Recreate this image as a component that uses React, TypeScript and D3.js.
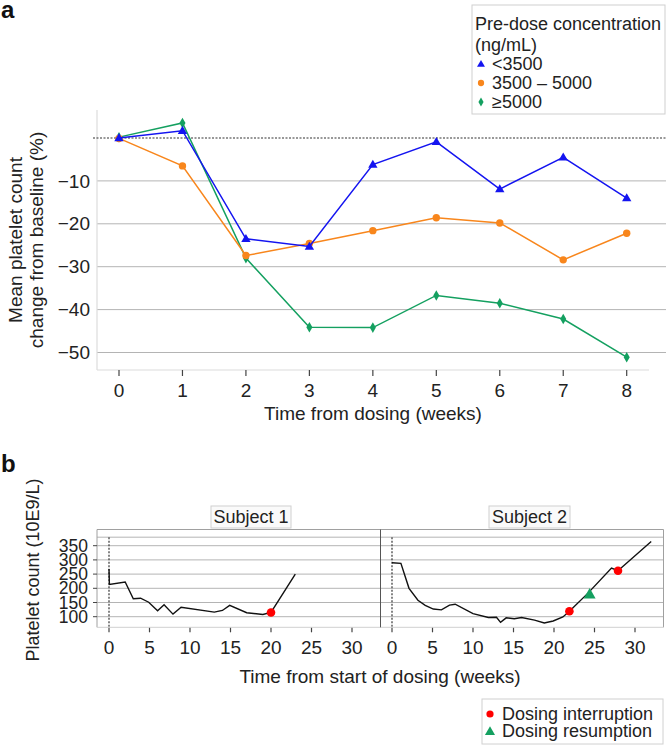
import React from "react";
import * as d3 from "d3";

// ---------- Panel a data ----------
const weeksA = [0, 1, 2, 3, 4, 5, 6, 7, 8];
const seriesNames = ["<3500", "3500 – 5000", "≥5000"];
const lowConc = [0, 1.7, -23.5, -25.3, -6.2, -0.9, -11.9, -4.5, -14.0];
const midConc = [-0.1, -6.5, -27.4, -24.6, -21.6, -18.6, -19.8, -28.4, -22.2];
const highConc = [0.2, 3.5, -28.0, -44.1, -44.2, -36.7, -38.5, -42.2, -51.1];
const yTicksA = [-10, -20, -30, -40, -50];

// ---------- Panel b data ----------
const subj1Weeks = [0, 0.05, 2, 3, 3.9, 4.9, 6, 6.8, 7.9, 8.9, 13, 14, 14.9, 17, 19, 20, 23];
const subj1Counts = [268, 214, 222, 163, 165, 151, 121, 142, 109, 133, 116, 122, 140, 114, 108, 115, 250];
const subj2Weeks = [0, 1.1, 2.1, 3.2, 4.1, 5.1, 6.1, 7.1, 7.8, 10, 11.9, 12.9, 13.4, 14.1, 15.1, 16, 17.6, 18.8, 19.9, 21.1, 21.9, 24.2, 27.1, 27.9, 32];
const subj2Counts = [290, 288, 200, 158, 140, 127, 124, 141, 144, 111, 97, 98, 80, 96, 93, 97, 88, 78, 85, 99, 119, 183, 271, 262, 365];
const subj1Interrupt = [{ w: 20, v: 115 }];
const subj2Interrupt = [{ w: 21.9, v: 119 }, { w: 27.9, v: 262 }];
const subj2Resume = [{ w: 24.4, v: 180 }];
const yTicksB = [100, 150, 200, 250, 300, 350];
const yGridB = [100, 150, 200, 250, 300, 350, 380];
const xTicksB = [0, 5, 10, 15, 20, 25, 30];

const FONT = "'Liberation Sans', Arial, Helvetica, sans-serif";
const BLUE = "#1414f0";
const ORANGE = "#f8861c";
const GREEN = "#14a060";
const FS = 19;

export default function App() {
  // panel a scales
  const xA = d3.scaleLinear().domain([0, 8]).range([119, 626.7]);
  const yA = d3.scaleLinear().domain([0, -50]).range([138, 352.5]);
  const lineA = (vals: number[]) =>
    d3.line<number>().x((_, i) => xA(weeksA[i])).y((d) => yA(d))(vals) as string;

  // panel b scales
  const yB = d3.scaleLinear().domain([100, 350]).range([616.7, 545.7]);
  const xB1 = d3.scaleLinear().domain([0, 30]).range([109, 352]);
  const xB2 = d3.scaleLinear().domain([0, 30]).range([392, 635]);
  const lineB = (x: d3.ScaleLinear<number, number>, ws: number[], vs: number[]) =>
    d3.line<number>().x((_, i) => x(ws[i])).y((d) => yB(d))(vs) as string;

  const tri = d3.symbol().type(d3.symbolTriangle);
  const dia = d3.symbol().type(d3.symbolDiamond);

  const series = [
    { name: seriesNames[2], vals: highConc, color: GREEN, shape: "diamond" },
    { name: seriesNames[1], vals: midConc, color: ORANGE, shape: "circle" },
    { name: seriesNames[0], vals: lowConc, color: BLUE, shape: "triangle" },
  ];

  const marker = (shape: string, x: number, y: number, color: string, key: any, scale = 1) => {
    if (shape === "circle") return <circle key={key} cx={x} cy={y} r={3.7 * scale} fill={color} />;
    if (shape === "triangle")
      return <path key={key} d={tri.size(38 * scale * scale)() as string} transform={`translate(${x},${y + 0.5})`} fill={color} />;
    return <path key={key} d={dia.size(32 * scale * scale)() as string} transform={`translate(${x},${y})`} fill={color} />;
  };

  const legendItems = [
    { name: seriesNames[0], color: BLUE, shape: "triangle" },
    { name: seriesNames[1], color: ORANGE, shape: "circle" },
    { name: seriesNames[2], color: GREEN, shape: "diamond" },
  ];

  const panelsB = [
    { label: "Subject 1", x: xB1, left: 97, right: 380.5, ws: subj1Weeks, vs: subj1Counts, intr: subj1Interrupt, res: [] as { w: number; v: number }[], strip: [211, 291] },
    { label: "Subject 2", x: xB2, left: 380.5, right: 663.5, ws: subj2Weeks, vs: subj2Counts, intr: subj2Interrupt, res: subj2Resume, strip: [489, 570] },
  ];
  const pTop = 529.5;
  const pBot = 627.3;

  return (
    <svg
      width={666}
      height={747}
      style={{ position: "absolute", left: 0, top: 0, background: "#fff" }}
      fontFamily={FONT}
    >
      <rect x={0} y={0} width={666} height={747} fill="#fff" />
      {/* ---------------- Panel a ---------------- */}
      <text x={1} y={18} fontSize={24} fontWeight="bold" fill="#111">a</text>

      {/* grid */}
      {yTicksA.map((t) => (
        <line key={t} x1={97} x2={666} y1={yA(t)} y2={yA(t)} stroke="#b4b4b4" strokeWidth={1} />
      ))}
      {/* axes */}
      <line x1={97} x2={97} y1={110} y2={370} stroke="#dcdcdc" strokeWidth={1.2} />
      <line x1={97} x2={649} y1={370} y2={370} stroke="#dcdcdc" strokeWidth={1.2} />
      {/* zero dotted */}
      <line x1={93} x2={666} y1={yA(0)} y2={yA(0)} stroke="#333" strokeWidth={1.2} strokeDasharray="2,1.5" />
      {yTicksA.map((t) => (
        <text key={t} x={90} y={yA(t)} dy="0.35em" textAnchor="end" fontSize={FS} fill="#222">
          {"−" + Math.abs(t)}
        </text>
      ))}
      {weeksA.map((w) => (
        <g key={w}>
          <line x1={xA(w)} x2={xA(w)} y1={370} y2={376} stroke="#444" strokeWidth={1.2} />
          <text x={xA(w)} y={390} dy="0.35em" textAnchor="middle" fontSize={FS} fill="#222">{w}</text>
        </g>
      ))}
      <text x={373} y={413} dy="0.35em" textAnchor="middle" fontSize={FS} fill="#222">
        Time from dosing (weeks)
      </text>
      <text transform="translate(15,240) rotate(-90)" textAnchor="middle" dy="0.35em" fontSize={FS} fill="#222">
        Mean platelet count
      </text>
      <text transform="translate(36,240) rotate(-90)" textAnchor="middle" dy="0.35em" fontSize={FS} fill="#222">
        change from baseline (%)
      </text>

      {/* series */}
      {series.map((s) => (
        <g key={s.name}>
          <path d={lineA(s.vals)} fill="none" stroke={s.color} strokeWidth={1.5} />
          {s.vals.map((v, i) => marker(s.shape, xA(weeksA[i]), yA(v), s.color, i))}
        </g>
      ))}

      {/* legend a */}
      <rect x={472} y={5} width={193} height={109} fill="#fff" stroke="#cfcfcf" strokeWidth={1} />
      <text x={475} y={24} dy="0.35em" fontSize={18} fill="#222">Pre-dose concentration</text>
      <text x={475} y={45} dy="0.35em" fontSize={18} fill="#222">(ng/mL)</text>
      {legendItems.map((it, i) => (
        <g key={it.name}>
          {marker(it.shape, 481, 64 + i * 19, it.color, "m" + i, 0.85)}
          <text x={492} y={64 + i * 19} dy="0.35em" fontSize={18} fill="#222">{it.name}</text>
        </g>
      ))}

      {/* ---------------- Panel b ---------------- */}
      <text x={1} y={472} fontSize={24} fontWeight="bold" fill="#111">b</text>

      {panelsB.map((p) => (
        <g key={p.label}>
          {yGridB.map((t) => (
            <line key={t} x1={p.left} x2={p.right} y1={yB(t)} y2={yB(t)} stroke="#b4b4b4" strokeWidth={1} />
          ))}
          <line x1={p.x(0)} x2={p.x(0)} y1={yB(380)} y2={pBot} stroke="#444" strokeWidth={1.3} strokeDasharray="2,1.5" />
          {xTicksB.map((t) => (
            <g key={t}>
              <line x1={p.x(t)} x2={p.x(t)} y1={pBot} y2={pBot + 5} stroke="#444" strokeWidth={1.2} />
              <text x={p.x(t)} y={647} dy="0.35em" textAnchor="middle" fontSize={FS} fill="#222">{t}</text>
            </g>
          ))}
          <path d={lineB(p.x, p.ws, p.vs)} fill="none" stroke="#111" strokeWidth={1.4} />
          {p.intr.map((d, i) => (
            <circle key={i} cx={p.x(d.w)} cy={yB(d.v)} r={4.3} fill="#f00" />
          ))}
          {p.res.map((d, i) => (
            <path key={i} d={tri.size(62)() as string} transform={`translate(${p.x(d.w)},${yB(d.v) + 1})`} fill={GREEN} />
          ))}
          <rect x={p.strip[0]} y={506} width={p.strip[1] - p.strip[0]} height={22} fill="#fafafa" stroke="#d0d0d0" />
          <text x={(p.strip[0] + p.strip[1]) / 2} y={517} dy="0.35em" textAnchor="middle" fontSize={18} fill="#222">
            {p.label}
          </text>
        </g>
      ))}
      {/* panel borders */}
      <line x1={97} x2={663.5} y1={pTop} y2={pTop} stroke="#a0a0a0" />
      <line x1={97} x2={97} y1={pTop} y2={pBot} stroke="#a0a0a0" />
      <line x1={663.5} x2={663.5} y1={pTop} y2={pBot} stroke="#a0a0a0" />
      <line x1={97} x2={663.5} y1={pBot} y2={pBot} stroke="#d0d0d0" />
      <line x1={380.5} x2={380.5} y1={pTop} y2={pBot} stroke="#555" />
      {yTicksB.map((t) => (
        <g key={t}>
          <line x1={93} x2={97} y1={yB(t)} y2={yB(t)} stroke="#444" />
          <text x={88} y={yB(t)} dy="0.35em" textAnchor="end" fontSize={17.5} fill="#222">{t}</text>
        </g>
      ))}
      <text x={380} y={676} dy="0.35em" textAnchor="middle" fontSize={FS} fill="#222">
        Time from start of dosing (weeks)
      </text>
      <text transform="translate(33,570) rotate(-90)" textAnchor="middle" dy="0.35em" fontSize={18} fill="#222">
        Platelet count (10E9/L)
      </text>

      {/* legend b */}
      <rect x={482} y={699} width={181} height={45} fill="#fff" stroke="#d0d0d0" />
      <circle cx={490} cy={714} r={3.6} fill="#f00" />
      <text x={502} y={714} dy="0.35em" fontSize={18} fill="#222">Dosing interruption</text>
      <path d={tri.size(44)() as string} transform="translate(490,732)" fill={GREEN} />
      <text x={502} y={731} dy="0.35em" fontSize={18} fill="#222">Dosing resumption</text>
    </svg>
  );
}
